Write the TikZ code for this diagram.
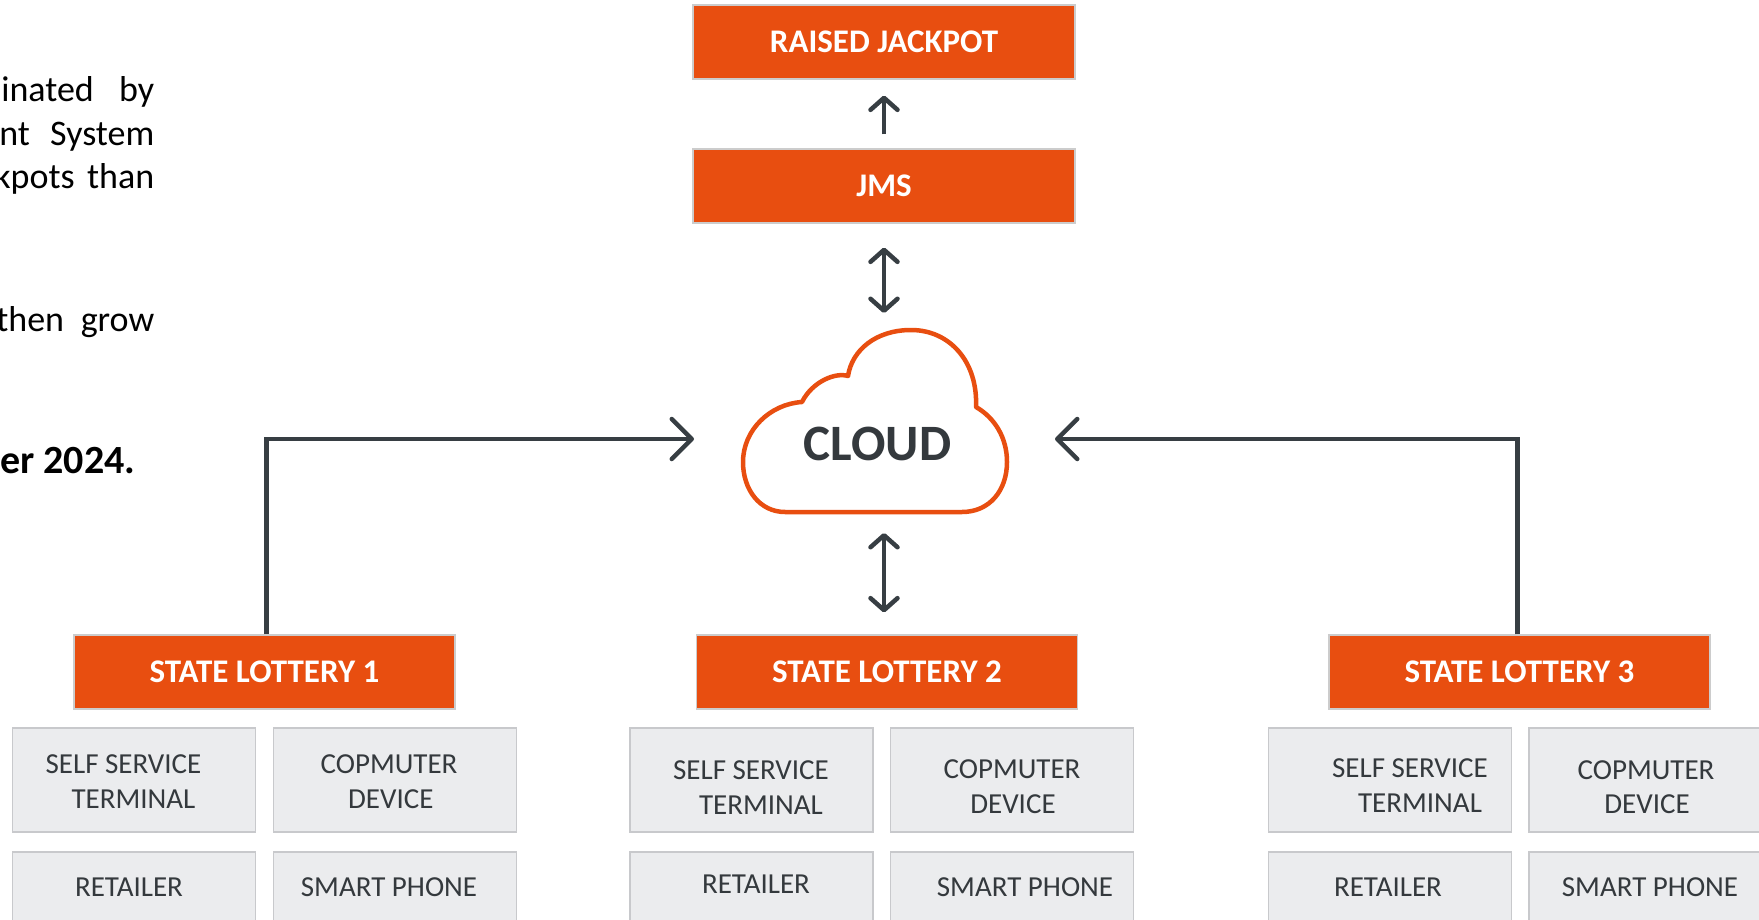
\documentclass[tikz,border=0pt]{standalone}
\usepackage{fontspec}
\setmainfont{Carlito}
\usetikzlibrary{arrows.meta,calc}
\definecolor{lotorange}{RGB}{232,78,16}
\definecolor{graybg}{RGB}{235,236,238}
\definecolor{grayedge}{RGB}{200,201,204}
\definecolor{darktext}{RGB}{52,57,61}
\definecolor{connector}{RGB}{55,62,67}
\tikzset{
  vtip/.tip={Straight Barb[length=12pt,width=27pt,round]},
  htip/.tip={Straight Barb[length=20pt,width=40pt,round]}
}
\begin{document}
\begin{tikzpicture}[x=1pt,y=1pt,
  obox/.style={draw=black!20, line width=1.2pt, fill=lotorange, text=white,
    font=\bfseries\fontsize{33}{40}\selectfont, minimum width=381pt,
    minimum height=74pt, inner sep=0pt, text height=21pt, text depth=0pt},
  gbox/.style={draw=grayedge, line width=1.5pt, fill=graybg,
    minimum width=243pt, inner sep=0pt},
  gtxt/.style={anchor=base, text=darktext, font=\fontsize{29}{35}\selectfont, inner sep=0pt},
  btxt/.style={anchor=base east, text=black, font=\fontsize{36}{44}\selectfont, inner sep=0pt},
  conn/.style={draw=connector, line width=4.5pt},
  cloudline/.style={draw=lotorange, line width=4.5pt, fill=white, line join=round}
]
\useasboundingbox (0,0) rectangle (1759,-920);
\clip (0,0) rectangle (1759,-920);

% left body text (cut off)
\node[btxt] (t1) at (154.5,-101.7) {\makebox[153pt][s]{inated by}};
\node[btxt] (t2) at (154.5,-146) {\makebox[155pt][s]{nt System}};
\node[btxt] (t3) at (154.5,-189) {\makebox[160pt][s]{kpots than}};
\node[btxt] (t4) at (154.5,-331) {\makebox[158pt][s]{then grow}};
\node[btxt, font=\bfseries\fontsize{40}{48}\selectfont] (t5) at (135.5,-473) {er 2024.};

% orange boxes
\node[obox, minimum width=382pt] (raised) at (884,-42) {RAISED JACKPOT};
\node[obox, minimum width=382pt] (jms) at (884,-186) {JMS};
\node[obox] (sl1) at (264.5,-672) {STATE LOTTERY 1};
\node[obox] (sl2) at (887,-672) {STATE LOTTERY 2};
\node[obox] (sl3) at (1519.5,-672) {STATE LOTTERY 3};

% cloud
\draw[cloudline]
  (785,-512) -- (962,-512)
  .. controls (990,-512) and (1007,-490) .. (1007,-462)
  .. controls (1007,-438) and (995,-418) .. (976,-407)
  .. controls (978,-362) and (950,-330) .. (911,-330)
  .. controls (876,-330) and (852,-350) .. (848,-376)
  .. controls (835,-372) and (812,-382) .. (802,-402)
  .. controls (770,-404) and (743,-430) .. (743,-462)
  .. controls (743,-490) and (760,-512) .. (785,-512) -- cycle;
\node[anchor=base, inner sep=0pt, text=darktext, font=\bfseries\fontsize{51}{60}\selectfont] (cloud) at (877.5,-460) {CLOUD};
\coordinate (cloudN) at (884,-333);
\coordinate (cloudS) at (884,-513);
\coordinate (inL) at (694,-439);
\coordinate (inR) at (1055,-439);

% connectors
\draw[conn,-{vtip}, shorten <=14pt, shorten >=16pt] (jms.north) -- (raised.south);
\draw[conn,{vtip}-{vtip}, shorten <=24pt, shorten >=20pt] (jms.south) -- (cloudN);
\draw[conn,{vtip}-{vtip}, shorten <=20pt, shorten >=22pt] (cloudS) -- (cloudS |- sl2.north);
\draw[conn,-{htip}] ([xshift=2pt]sl1.north) |- (inL);
\draw[conn,-{htip}] ([xshift=-2pt]sl3.north) |- (inR);

% gray boxes, row 1
\node[gbox, minimum height=104pt] (g1a) at (134,-780) {};
\node[gbox, minimum height=104pt] (g1b) at (395,-780) {};
\node[gbox, minimum height=104pt] (g2a) at (751.5,-780) {};
\node[gbox, minimum height=104pt] (g2b) at (1012,-780) {};
\node[gbox, minimum height=104pt] (g3a) at (1389.75,-780) {};
\node[gbox, minimum height=104pt] (g3b) at (1650.5,-780) {};
% gray boxes, row 2
\node[gbox, minimum height=84pt] (g1c) at (134,-894) {};
\node[gbox, minimum height=84pt] (g1d) at (395,-894) {};
\node[gbox, minimum height=84pt] (g2c) at (751.5,-894) {};
\node[gbox, minimum height=84pt] (g2d) at (1012,-894) {};
\node[gbox, minimum height=84pt] (g3c) at (1389.75,-894) {};
\node[gbox, minimum height=84pt] (g3d) at (1650.5,-894) {};

% gray box texts
\node[gtxt] (g1a1) at (123.5,-773) {SELF SERVICE};
\node[gtxt] (g1a2) at (133.5,-808) {TERMINAL};
\node[gtxt] (g1b1) at (389,-773) {COPMUTER};
\node[gtxt] (g1b2) at (390.8,-808) {DEVICE};
\node[gtxt] (g1c1) at (129,-896) {RETAILER};
\node[gtxt] (g1d1) at (389,-896) {SMART PHONE};

\node[gtxt] (g2a1) at (751,-779) {SELF SERVICE};
\node[gtxt] (g2a2) at (761,-814) {TERMINAL};
\node[gtxt] (g2b1) at (1012,-778) {COPMUTER};
\node[gtxt] (g2b2) at (1013,-813) {DEVICE};
\node[gtxt] (g2c1) at (756,-893) {RETAILER};
\node[gtxt] (g2d1) at (1025,-896) {SMART PHONE};

\node[gtxt] (g3a1) at (1410,-777) {SELF SERVICE};
\node[gtxt] (g3a2) at (1420,-812) {TERMINAL};
\node[gtxt] (g3b1) at (1646,-779) {COPMUTER};
\node[gtxt] (g3b2) at (1647,-813) {DEVICE};
\node[gtxt] (g3c1) at (1388,-896) {RETAILER};
\node[gtxt] (g3d1) at (1650,-896) {SMART PHONE};
\end{tikzpicture}
\end{document}
